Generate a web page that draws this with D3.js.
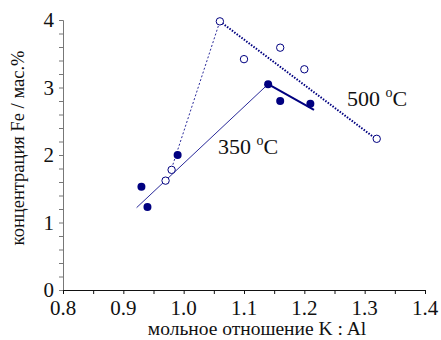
<!DOCTYPE html>
<html>
<head>
<meta charset="utf-8">
<script src="https://cdn.jsdelivr.net/npm/d3@7"></script>
<style>
  body { margin: 0; background: #fff; }
</style>
</head>
<body>
<svg width="441" height="340" font-family="Liberation Serif"></svg>
<script>
// data
const xTicks = [0.8, 0.9, 1.0, 1.1, 1.2, 1.3, 1.4];
const yTicks = [0, 1, 2, 3, 4];

// 500 oC - open circles
const hot500X = [0.97, 0.98, 1.06, 1.10, 1.16, 1.20, 1.32];
const hot500Y = [1.62, 1.78, 3.98, 3.42, 3.59, 3.27, 2.24];
// 350 oC - filled circles
const cold350X = [0.93, 0.94, 0.99, 1.14, 1.16, 1.21];
const cold350Y = [1.53, 1.23, 2.00, 3.05, 2.80, 2.76];

// trend lines
const rise350 = [[0.922, 1.22], [1.14, 3.05]];
const fall350 = [[1.14, 3.05], [1.216, 2.67]];
const rise500 = [[0.98, 1.80], [1.06, 3.98]];
const fall500 = [[1.06, 3.98], [1.32, 2.23]];

(function (d3) {
  'use strict';
  const svg = d3.select('svg');
  const navy = '#000080';
  const lineCol = '#2a2a9a';
  const font = 'Liberation Serif';

  const x = d3.scaleLinear().domain([0.8, 1.4]).range([63, 425]);
  const y = d3.scaleLinear().domain([0, 4]).range([290, 20]);

  // y axis
  const yAxisG = svg.append('g').attr('transform', `translate(${x(0.8)},0)`);
  yAxisG.call(d3.axisLeft(y).tickValues(d3.range(0, 4.001, 0.2)).tickSize(4).tickFormat(''));
  yAxisG.attr('font-family', font);
  yAxisG.select('.domain').attr('stroke', '#777');
  yAxisG.selectAll('.tick line').attr('stroke', '#777');
  yAxisG.selectAll('.ylab').data(yTicks).enter().append('text')
      .attr('class', 'ylab')
      .attr('x', -9)
      .attr('y', d => y(d))
      .attr('dy', '0.35em')
      .attr('text-anchor', 'end')
      .attr('fill', '#111')
      .attr('font-family', font)
      .attr('font-size', 21)
      .text(d => d);

  // x axis
  const xAxisG = svg.append('g').attr('transform', `translate(0,${y(0)})`);
  xAxisG.call(d3.axisBottom(x).tickValues(d3.range(0.8, 1.4001, 0.05)).tickSize(4).tickSizeOuter(0).tickFormat(''));
  xAxisG.attr('font-family', font);
  xAxisG.select('.domain').attr('stroke', '#111');
  xAxisG.selectAll('.tick line').attr('stroke', '#111');
  xAxisG.selectAll('.xlab').data(xTicks).enter().append('text')
      .attr('class', 'xlab')
      .attr('x', d => x(d))
      .attr('y', 25)
      .attr('text-anchor', 'middle')
      .attr('fill', '#111')
      .attr('font-family', font)
      .attr('font-size', 21)
      .text(d => d.toFixed(1));

  // axis titles
  svg.append('text')
      .attr('transform', `translate(24,148) rotate(-90)`)
      .attr('text-anchor', 'middle')
      .attr('fill', '#111')
      .attr('font-family', font)
      .attr('font-size', 18.5)
      .text('концентрация Fe / мас.%');
  svg.append('text')
      .attr('x', 257)
      .attr('y', 335)
      .attr('text-anchor', 'middle')
      .attr('fill', '#111')
      .attr('font-family', font)
      .attr('font-size', 19.5)
      .text('мольное отношение K : Al');

  // lines
  const line = d3.line().x(d => x(d[0])).y(d => y(d[1]));
  svg.append('path').attr('d', line(rise350))
      .attr('fill', 'none').attr('stroke', lineCol).attr('stroke-width', 1);
  svg.append('path').attr('d', line(fall350))
      .attr('fill', 'none').attr('stroke', navy).attr('stroke-width', 2);
  svg.append('path').attr('d', line(rise500))
      .attr('fill', 'none').attr('stroke', lineCol).attr('stroke-width', 1)
      .attr('stroke-dasharray', '2,2');
  svg.append('path').attr('d', line(fall500))
      .attr('fill', 'none').attr('stroke', navy).attr('stroke-width', 2)
      .attr('stroke-dasharray', '1.5,1.5');

  // points
  svg.selectAll('.open').data(hot500X).enter().append('circle')
      .attr('class', 'open')
      .attr('cx', d => x(d))
      .attr('cy', (d, i) => y(hot500Y[i]))
      .attr('r', 3.7)
      .attr('fill', 'white')
      .attr('stroke', navy)
      .attr('stroke-width', 1);
  svg.selectAll('.filled').data(cold350X).enter().append('circle')
      .attr('class', 'filled')
      .attr('cx', d => x(d))
      .attr('cy', (d, i) => y(cold350Y[i]))
      .attr('r', 4)
      .attr('fill', navy);

  // series labels
  const label = (px, py, num) => {
    const t = svg.append('text').attr('x', px).attr('y', py)
        .attr('fill', '#111').attr('font-family', font).attr('font-size', 22);
    t.append('tspan').text(num + ' ');
    t.append('tspan').attr('font-size', 14).attr('dy', -9).text('o');
    t.append('tspan').attr('dy', 9).text('C');
  };
  label(347, 106, '500');
  label(218, 154, '350');
}(d3));
</script>
</body>
</html>
